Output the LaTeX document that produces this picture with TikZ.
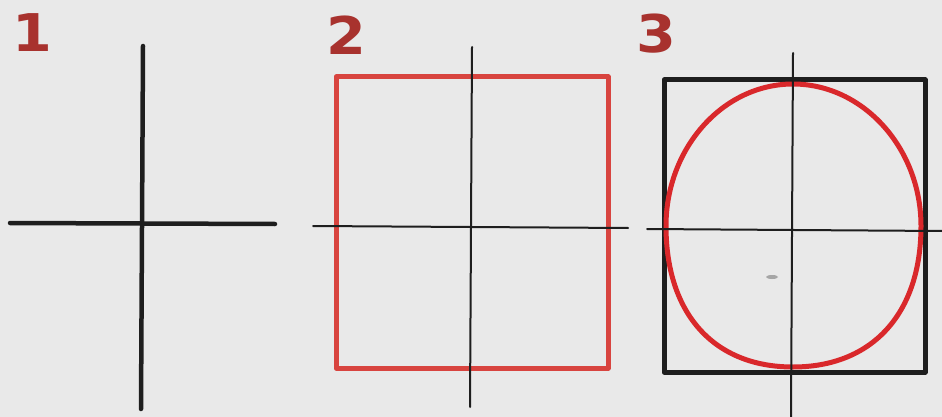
\documentclass[tikz,border=0pt]{standalone}
\usepackage{fontspec}
\newfontfamily\numfont{DejaVu Sans}
\definecolor{bgc}{HTML}{E9E9E9}
\definecolor{ink}{HTML}{1E1E1E}
\definecolor{boxred}{HTML}{D8443F}
\definecolor{eggred}{HTML}{D9282B}
\definecolor{numred}{HTML}{A8322E}
\tikzset{
  axisthick/.style={draw=ink, line width=4.5pt, line cap=round},
  axisthin/.style={draw=ink, line width=2pt, line cap=round},
  redbox/.style={draw=boxred, line width=5pt, line join=round},
  blackbox/.style={draw=ink, line width=5pt, line join=round},
  egg/.style={draw=eggred, line width=5pt},
  num/.style={text=numred, inner sep=0pt, font=\numfont\bfseries\fontsize{52}{52}\selectfont}
}
\begin{document}
\begin{tikzpicture}[x=1pt,y=-1pt]
\useasboundingbox (0,0) rectangle (942,417);
\fill[bgc] (0,0) rectangle (942,417);
% numbers
\node[num] (n1) at (32,33) {\scalebox{1.1}[1]{1}};
\node[num] (n2) at (346,35) {\scalebox{1.1}[1]{2}};
\node[num] (n3) at (656,34) {\scalebox{1.1}[1]{3}};
% panel 1
\coordinate (a1t) at (143,46);
\coordinate (a1b) at (141,409);
\coordinate (a1l) at (10,223);
\coordinate (a1r) at (275,224);
\draw[axisthick] (a1t) -- (a1b);
\draw[axisthick] (a1l) -- (a1r);
% panel 2
\coordinate (b2tl) at (336,77);
\coordinate (b2br) at (608,368);
\draw[redbox] (b2tl) rectangle (b2br);
\coordinate (a2t) at (472,47);
\coordinate (a2b) at (470,407);
\coordinate (a2l) at (313,226);
\coordinate (a2r) at (628,228);
\draw[axisthin] (a2t) -- (a2b);
\draw[axisthin] (a2l) -- (a2r);
% panel 3
\coordinate (b3tl) at (664,80);
\coordinate (b3br) at (925,372);
\draw[blackbox] (b3tl) rectangle (b3br);
\draw[egg] (793,84) .. controls (863,84) and (921,148) .. (921,226)
  .. controls (921,314) and (872,367) .. (793,367)
  .. controls (714,367) and (666,314) .. (666,226)
  .. controls (666,148) and (723,84) .. (793,84) -- cycle;
\coordinate (a3t) at (793,53);
\coordinate (a3b) at (791,417);
\coordinate (a3l) at (647,229);
\coordinate (a3r) at (942,231);
\draw[axisthin] (a3t) -- (a3b);
\draw[axisthin] (a3l) -- (a3r);
\fill[gray!70] (772,277) ellipse (6 and 2);
\end{tikzpicture}
\end{document}
